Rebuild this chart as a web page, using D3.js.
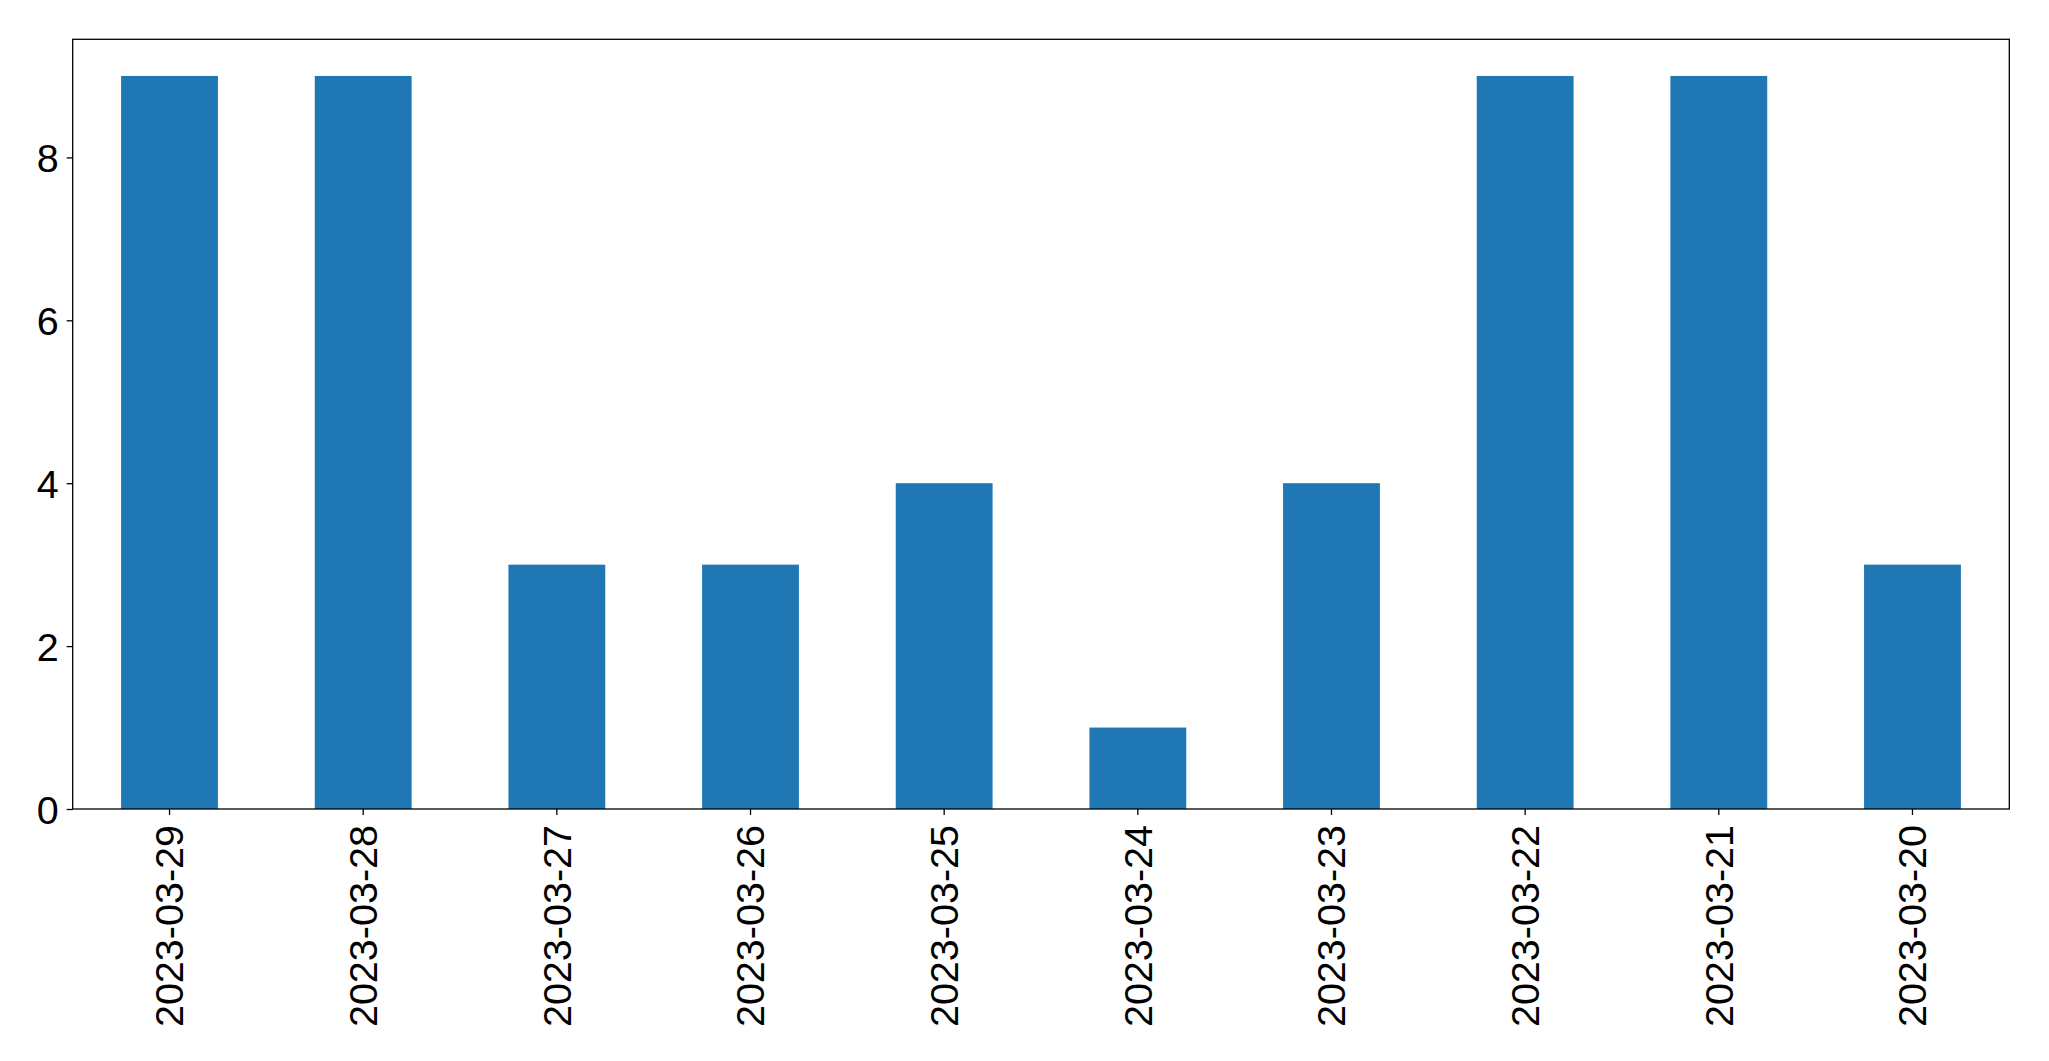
<!DOCTYPE html>
<html><head><meta charset="utf-8">
<script src="https://cdn.jsdelivr.net/npm/d3@7"></script>
<style>body{margin:0;background:#fff}svg{display:block}text{font-family:"Liberation Sans",Arial,sans-serif}</style>
</head><body><svg id="c" width="2049" height="1061"></svg>
<script>
const categories = ["2023-03-29","2023-03-28","2023-03-27","2023-03-26","2023-03-25","2023-03-24","2023-03-23","2023-03-22","2023-03-21","2023-03-20"];
const values = [9,9,3,3,4,1,4,9,9,3];
const yTicks = [0,2,4,6,8];

const svg = d3.select("#c");
const m = {left:72.7, right:2009.3, top:39.3, bottom:809};
const x = d3.scaleBand().domain(categories).range([m.left, m.right]).paddingInner(0.5).paddingOuter(0.25);
const y = d3.scaleLinear().domain([0, 9.45]).range([m.bottom, m.top]);

svg.append("g").selectAll("rect").data(values).join("rect")
  .attr("x", (d,i)=>x(categories[i]))
  .attr("width", x.bandwidth())
  .attr("y", d=>y(d))
  .attr("height", d=>y(0)-y(d))
  .attr("fill", "#1f77b4");

const fs = 39.5;
const xa = svg.append("g").attr("transform",`translate(0,${m.bottom})`)
  .call(d3.axisBottom(x).tickSize(6).tickPadding(0));
xa.select(".domain").remove();
xa.selectAll("line").attr("stroke","#000").attr("stroke-width",1.3);
xa.selectAll("text").attr("font-size",fs).attr("fill","#000")
  .attr("transform","rotate(-90)").attr("text-anchor","end")
  .attr("x",-16).attr("y",0).attr("dy","0.35em");

const ya = svg.append("g").attr("transform",`translate(${m.left},0)`)
  .call(d3.axisLeft(y).tickValues(yTicks).tickFormat(d3.format("d")).tickSize(6).tickPadding(8));
ya.select(".domain").remove();
ya.selectAll("line").attr("stroke","#000").attr("stroke-width",1.3);
ya.selectAll("text").attr("font-size",fs).attr("fill","#000").attr("dy","0.36em");

svg.append("rect").attr("x",m.left).attr("y",m.top).attr("width",m.right-m.left).attr("height",m.bottom-m.top)
  .attr("fill","none").attr("stroke","#000").attr("stroke-width",1.3);
</script></body></html>
